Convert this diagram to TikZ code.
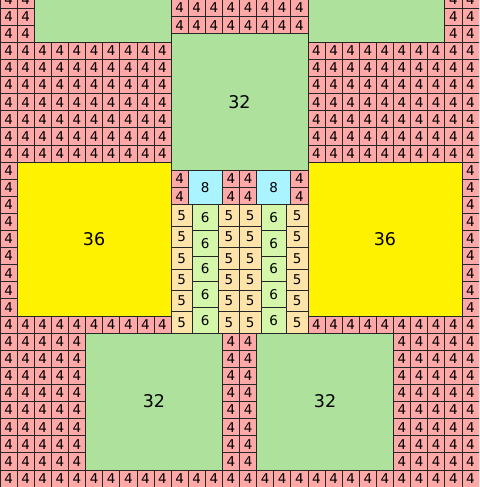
\documentclass[tikz,border=0pt]{standalone}
\usepackage{fontspec}
\setmainfont{DejaVu Sans}
\definecolor{pinkc}{HTML}{FFA8A8}
\definecolor{bigg}{HTML}{AEE29C}
\definecolor{yel}{HTML}{FFF200}
\definecolor{cyanc}{HTML}{AAF4FF}
\definecolor{beige}{HTML}{FFE4AA}
\definecolor{lgreen}{HTML}{D4F7AA}
\begin{document}
\begin{tikzpicture}[x=4.2768pt,y=4.2768pt,
  cellbase/.style={draw=black!85, line width=0.7pt, inner sep=0pt, outer sep=0pt, font=\fontsize{13.5}{13.5}\selectfont},
  c4/.style={cellbase, fill=pinkc, minimum size=17.107pt},
  c5/.style={cellbase, fill=beige, minimum size=21.384pt},
  c6/.style={cellbase, fill=lgreen, minimum size=25.661pt},
  c8/.style={cellbase, fill=cyanc, minimum size=34.214pt},
  c32/.style={cellbase, fill=bigg, minimum size=136.858pt, font=\fontsize{17.5}{17.5}\selectfont},
  c36/.style={cellbase, fill=yel, minimum size=153.965pt, font=\fontsize{17.5}{17.5}\selectfont}]
\useasboundingbox (0,0) rectangle (112,113.87);
\begin{scope}
\clip (0,0) rectangle (112,113.87);
% big squares
\node[c32] (g1) at (36,20) {32};
\node[c32] (g2) at (76,20) {32};
\node[c32] (g3) at (56,90) {32};
\node[c32] (g4) at (24,120) {};
\node[c32] (g5) at (88,120) {};
\node[c36] (y1) at (22,58) {36};
\node[c36] (y2) at (90,58) {36};
% cyan 8s
\node[c8] (e1) at (48,70) {8};
\node[c8] (e2) at (64,70) {8};
% 5 columns
\foreach \cx in {40,51,56,67}{
  \foreach \k in {0,...,5}{
    \node[c5] (v\cx-\k) at ({\cx+2.5},{36+5*\k+2.5}) {5};
  }
}
% 6 columns
\foreach \cx in {45,61}{
  \foreach \k in {0,...,4}{
    \node[c6] (s\cx-\k) at ({\cx+3},{36+6*\k+3}) {6};
  }
}
% bottom row of 4s
\foreach \i in {0,...,27}{
  \node[c4] (b\i) at ({4*\i+2},2) {4};
}
% rows 1..8
\foreach \j in {1,...,8}{
  \foreach \i in {0,...,4,13,14,23,24,...,27}{
    \node[c4] (p\i-\j) at ({4*\i+2},{4*\j+2}) {4};
  }
}
% row 9
\foreach \i in {0,...,9,18,19,...,27}{
  \node[c4] (q\i) at ({4*\i+2},38) {4};
}
% side columns rows 10..18
\foreach \j in {10,...,18}{
  \foreach \i in {0,27}{
    \node[c4] (r\i-\j) at ({4*\i+2},{4*\j+2}) {4};
  }
}
% rows 19..25
\foreach \j in {19,...,25}{
  \foreach \i in {0,...,9,18,19,...,27}{
    \node[c4] (t\i-\j) at ({4*\i+2},{4*\j+2}) {4};
  }
}
% top corners rows 26..28
\foreach \j in {26,27,28}{
  \foreach \i in {0,1,26,27}{
    \node[c4] (u\i-\j) at ({4*\i+2},{4*\j+2}) {4};
  }
}
% top middle two rows
\foreach \j in {0,1}{
  \foreach \i in {10,...,17}{
    \node[c4] (m\i-\j) at ({4*\i+2},{106+4*\j+2}) {4};
  }
}
% 4s beside the 8s
\foreach \cx in {40,52,56,68}{
  \foreach \j in {0,1}{
    \node[c4] (w\cx-\j) at ({\cx+2},{66+4*\j+2}) {4};
  }
}
\end{scope}
\end{tikzpicture}
\end{document}
